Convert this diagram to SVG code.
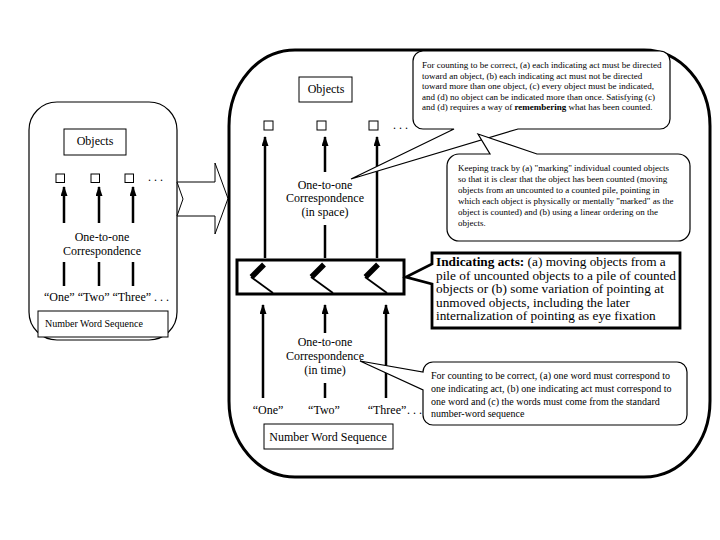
<svg xmlns="http://www.w3.org/2000/svg" width="720" height="540" viewBox="0 0 720 540">
<style>
  .t { font-family: "Liberation Serif", "Times New Roman", serif; fill: #000; }
  .lbl { font-size: 12px; text-anchor: middle; }
  .sm { font-size: 9px; }
  .thin { fill: #fff; stroke: #000; stroke-width: 1.2; }
  .box { fill: #fff; stroke: #000; stroke-width: 1; }
  .shaft { stroke: #000; stroke-width: 2.5; fill: none; }
</style>
<defs>
  <marker id="ah" markerUnits="userSpaceOnUse" markerWidth="10" markerHeight="8" refX="9" refY="3.5" orient="auto">
    <path d="M0,0 L10,3.5 L0,7 z" fill="#000"/>
  </marker>
</defs>
<rect width="720" height="540" fill="#fff"/>

<!-- Left panel -->
<g id="left-panel">
  <rect class="thin" x="29" y="102" width="148" height="238" rx="28" ry="28"/>
  <rect class="box" x="64" y="129" width="62" height="26"/>
  <text class="t lbl" x="95" y="145">Objects</text>
  <rect class="box" x="56" y="174" width="8.5" height="8.5"/>
  <rect class="box" x="91" y="174" width="8.5" height="8.5"/>
  <rect class="box" x="125" y="174" width="8.5" height="8.5"/>
  <text class="t" font-size="12" x="148" y="181">. . .</text>
  <text class="t lbl" x="102" y="241">One-to-one</text>
  <text class="t lbl" x="102" y="255">Correspondence</text>
  <text class="t" font-size="12" x="44" y="301">“One” “Two” “Three” . . .</text>
  <rect class="box" x="38" y="311" width="130" height="26"/>
  <text class="t" font-size="10" x="45" y="327">Number Word Sequence</text>
</g>

<!-- Block arrow -->
<g id="block-arrow">
  <polygon class="box" points="177,182 215,182 215,163 228,198.5 215,234 215,216 177,216 183,199"/>
</g>

<!-- Right panel -->
<g id="right-panel">
  <rect x="229" y="50" width="481" height="427" rx="66" ry="76" fill="none" stroke="#000" stroke-width="3"/>
  <rect class="box" x="299" y="77" width="53" height="25"/>
  <text class="t lbl" x="326" y="93">Objects</text>
  <rect class="box" x="264" y="121" width="9" height="9"/>
  <rect class="box" x="317" y="121" width="9" height="9"/>
  <rect class="box" x="369" y="121" width="9" height="9"/>
  <text class="t" font-size="12" x="393" y="129">. . .</text>
  <text class="t lbl" x="325" y="189">One-to-one</text>
  <text class="t lbl" x="325" y="202">Correspondence</text>
  <text class="t lbl" x="325" y="216">(in space)</text>
  <text class="t lbl" x="325" y="346">One-to-one</text>
  <text class="t lbl" x="325" y="360">Correspondence</text>
  <text class="t lbl" x="325" y="374">(in time)</text>
  <text class="t lbl" x="268" y="414">“One”</text>
  <text class="t lbl" x="324" y="414">“Two”</text>
  <text class="t lbl" x="387" y="414">“Three”</text>
  <text class="t" font-size="12" x="407" y="414">. . .</text>
  <rect class="box" x="264" y="424" width="129" height="25"/>
  <text class="t lbl" x="328" y="441">Number Word Sequence</text>
</g>

<!-- Indicating acts box -->
<g id="indicating-box">
  <rect x="237" y="260" width="167" height="34" fill="#fff" stroke="#000" stroke-width="3"/>
  <g stroke="#000" fill="none">
    <line x1="264" y1="264.5" x2="251.5" y2="277" stroke-width="5.5"/>
    <line x1="251" y1="277" x2="273" y2="293" stroke-width="1.8"/>
    <line x1="324" y1="264.5" x2="311.5" y2="277" stroke-width="5.5"/>
    <line x1="311" y1="277" x2="333" y2="293" stroke-width="1.8"/>
    <line x1="378" y1="264.5" x2="365.5" y2="277" stroke-width="5.5"/>
    <line x1="365" y1="277" x2="387" y2="293" stroke-width="1.8"/>
  </g>
</g>

<!-- Connectors -->
<g id="connectors">
  <line class="shaft" x1="64" y1="223" x2="64" y2="187" marker-end="url(#ah)"/>
  <line class="shaft" x1="99" y1="223" x2="99" y2="187" marker-end="url(#ah)"/>
  <line class="shaft" x1="133" y1="223" x2="133" y2="187" marker-end="url(#ah)"/>
  <line class="shaft" x1="64" y1="262" x2="64" y2="286"/>
  <line class="shaft" x1="99" y1="262" x2="99" y2="286"/>
  <line class="shaft" x1="133" y1="262" x2="133" y2="286"/>

  <line class="shaft" x1="265" y1="258" x2="265" y2="137" marker-end="url(#ah)"/>
  <line class="shaft" x1="325" y1="172" x2="325" y2="137" marker-end="url(#ah)"/>
  <line class="shaft" x1="325" y1="225" x2="325" y2="258"/>
  <line class="shaft" x1="377" y1="258" x2="377" y2="137" marker-end="url(#ah)"/>

  <line class="shaft" x1="263" y1="398" x2="263" y2="305" marker-end="url(#ah)"/>
  <line class="shaft" x1="325" y1="333" x2="325" y2="305" marker-end="url(#ah)"/>
  <line class="shaft" x1="325" y1="383" x2="325" y2="398"/>
  <line class="shaft" x1="386" y1="398" x2="386" y2="305" marker-end="url(#ah)"/>
</g>

<!-- Callout 1 -->
<g id="callout-correct-space">
  <path class="thin" d="M423,51 H660 A10,10 0 0 1 670,61 V119 A10,10 0 0 1 660,129 H518 L351,179 L454,129 H423 A10,10 0 0 1 413,119 V61 A10,10 0 0 1 423,51 Z"/>
  <g class="t sm">
    <text x="422" y="68">For counting to be correct, (a) each indicating act must be directed</text>
    <text x="422" y="78.5">toward an object, (b) each indicating act must not be directed</text>
    <text x="422" y="89">toward more than one object, (c) every object must be indicated,</text>
    <text x="422" y="99.5">and (d) no object can be indicated more than once.  Satisfying (c)</text>
    <text x="422" y="110">and (d) requires a way of <tspan font-weight="bold">remembering</tspan> what has been counted.</text>
  </g>
</g>

<!-- Callout 2 -->
<g id="callout-keeping-track">
  <path class="thin" d="M459,154 H490 L478,134 L537,154 H678 A12,12 0 0 1 690,166 V229 A12,12 0 0 1 678,241 H459 A12,12 0 0 1 447,229 V166 A12,12 0 0 1 459,154 Z"/>
  <g class="t sm">
    <text x="458" y="171">Keeping track by (a) "marking" individual counted objects</text>
    <text x="458" y="182">so that it is clear that the object has been counted (moving</text>
    <text x="458" y="193">objects from an uncounted to a counted pile, pointing in</text>
    <text x="458" y="204">which each object is physically or mentally "marked" as the</text>
    <text x="458" y="215">object is counted) and (b) using a linear ordering on the</text>
    <text x="458" y="226">objects.</text>
  </g>
</g>

<!-- Callout 3 -->
<g id="callout-indicating-acts">
  <path d="M432,253 H680 V328 H432 V284 L406,277 L432,264 Z" fill="#fff" stroke="#000" stroke-width="2.8"/>
  <g class="t" font-size="13.3">
    <text x="436" y="266"><tspan font-weight="bold">Indicating acts:</tspan>  (a) moving objects from a</text>
    <text x="436" y="279.5">pile of uncounted objects to a pile of counted</text>
    <text x="436" y="293">objects or (b) some variation of pointing at</text>
    <text x="436" y="306.5">unmoved objects, including the later</text>
    <text x="436" y="320">internalization of pointing as eye fixation</text>
  </g>
</g>

<!-- Callout 4 -->
<g id="callout-correct-time">
  <path class="thin" d="M433,362 H677 A10,10 0 0 1 687,372 V415 A10,10 0 0 1 677,425 H433 A10,10 0 0 1 423,415 V390 L360,361 L423,372 A10,10 0 0 1 433,362 Z"/>
  <g class="t" font-size="10">
    <text x="431" y="378.5">For counting to be correct, (a) one word must correspond to</text>
    <text x="431" y="391.5">one indicating act, (b) one indicating act must correspond to</text>
    <text x="431" y="404.5">one word and (c) the words must come from the standard</text>
    <text x="431" y="417">number-word sequence</text>
  </g>
</g>
</svg>
